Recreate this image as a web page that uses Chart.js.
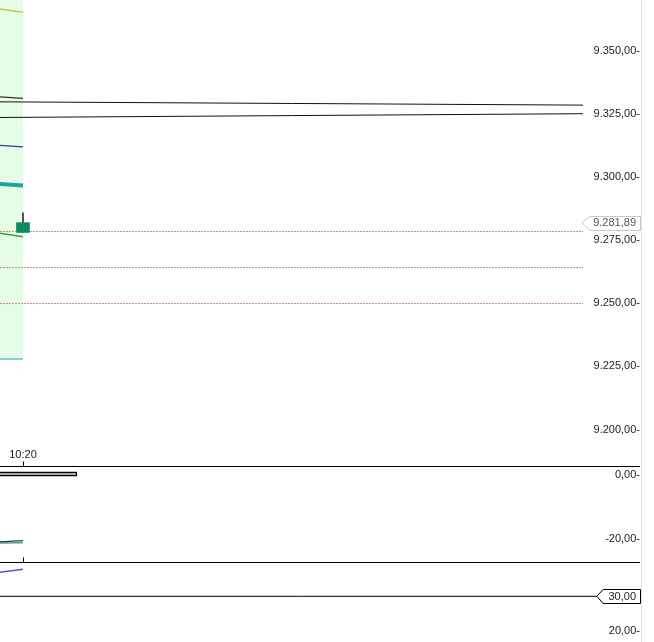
<!DOCTYPE html>
<html>
<head>
<meta charset="utf-8">
<script src="https://cdn.jsdelivr.net/npm/chart.js@4"></script>
<style>
  html, body { margin: 0; padding: 0; background: #fff; }
  body { width: 654px; height: 642px; position: relative; overflow: hidden; }
  .panel { position: absolute; left: 0; width: 654px; }
  #sep { position: absolute; left: 641px; top: 0; width: 1px; height: 642px; background: #e2e2e2; }
</style>
</head>
<body>
<div class="panel" style="top:0;height:467px"><canvas id="priceChart"></canvas></div>
<div class="panel" style="top:467px;height:96px"><canvas id="oscChart"></canvas></div>
<div class="panel" style="top:563px;height:79px"><canvas id="rsiChart"></canvas></div>
<div id="sep"></div>
<script>
// bar positions (10:20 is bar 0) and the visible x window
const barX = [-1, 0];
const xMin = -1;
const xMax = 24.35;
const timeTicks = [0];
const timeTickLabels = ['10:20'];

// price panel
const bandUpper = [9380, 9380];
const bandLower = [9227.9, 9227.9];
const yellowLine = [9366.4, 9365.1];
const darkLine = [9331.7, 9331.1];
const blueLine = [9312.5, 9311.9];
const tealLine = [9297.2, 9296.6];
const greenLine = [9277.7, 9276.3];
const trendX = [-1, 24.35];
const trendA = [9329.7, 9328.4];
const trendB = [9323.5, 9325.0];
const levelLines = [9278.37, 9264.12, 9249.88];
const candle = { x: 0, open: 9278.0, high: 9285.8, low: 9278.0, close: 9281.89 };
const priceRange = [9193.1, 9370];

// middle oscillator panel
const oscBarX = [-1, 2.35];
const oscBarInnerX = [-1, 2.3];
const oscBar = [0.31, 0.31];
const oscBlue = [-20.8, -20.4];
const oscGreen = [-21.15, -21.05];
const oscRange = [-27.37, 2.49];

// bottom panel
const rsiLine = [36.9, 37.7];
const rsiLevelX = [-1, 24.96];
const rsiLevel = 30;
const rsiRange = [16.94, 39.51];

const tickFont = { family: 'Liberation Sans, Arial, sans-serif', size: 11 };

function de(v) {
  const parts = Math.abs(v).toFixed(2).split('.');
  return (v < 0 ? '-' : '') + parts[0].replace(/\B(?=(\d{3})+(?!\d))/g, '.') + ',' + parts[1];
}

function pts(xs, ys) {
  return xs.map((x, i) => ({ x: x, y: ys[i] }));
}

function line(data, color, width, extra) {
  return Object.assign({
    type: 'line', data: data, borderColor: color, borderWidth: width,
    pointRadius: 0, tension: 0, fill: false, order: 2
  }, extra || {});
}

function xScale(show) {
  return {
    type: 'linear', min: xMin, max: xMax, offset: false, display: show,
    grid: { display: false, drawTicks: false, offset: false }, border: { display: false },
    afterBuildTicks: s => { s.ticks = timeTicks.map(v => ({ value: v })); },
    afterFit: s => {
      if (show) s.height = 20;
      s.paddingLeft = 0; s.paddingRight = 0;
    },
    ticks: {
      autoSkip: false, maxRotation: 0, padding: 1, font: tickFont, color: '#222',
      callback: v => timeTickLabels[timeTicks.indexOf(v)] || ''
    }
  };
}

function yScale(range, step, pad) {
  return {
    position: 'right', min: range[0], max: range[1],
    grid: { display: false }, border: { display: false },
    afterFit: s => { s.width = 57; s.paddingTop = 0; s.paddingBottom = 0; },
    ticks: {
      stepSize: step, includeBounds: false, padding: pad, crossAlign: 'far',
      font: tickFont, color: '#222', callback: v => de(v) + '-'
    }
  };
}

// bottom separator line and the small time tick marks
const panelFrame = {
  id: 'panelFrame',
  afterDraw(chart) {
    const ctx = chart.ctx;
    const yb = chart.height - 0.5;
    ctx.save();
    ctx.strokeStyle = '#000';
    ctx.lineWidth = 1;
    ctx.beginPath();
    ctx.moveTo(0, yb);
    ctx.lineTo(640, yb);
    timeTicks.forEach(t => {
      const px = Math.round(chart.scales.x.getPixelForValue(t)) + 0.5;
      ctx.moveTo(px, yb);
      ctx.lineTo(px, yb - 5);
    });
    ctx.stroke();
    ctx.restore();
  }
};

function valueTag(value, tipX, boxX, stroke, textColor) {
  return {
    id: 'valueTag',
    afterDraw(chart) {
      const ctx = chart.ctx;
      const yc = chart.scales.y.getPixelForValue(value);
      const tip = typeof tipX === 'function' ? tipX(chart) : tipX;
      const top = Math.round(yc - 7) + 0.5, bot = Math.round(yc + 7) + 0.5;
      ctx.save();
      ctx.beginPath();
      ctx.moveTo(tip, yc);
      ctx.lineTo(boxX, top);
      ctx.lineTo(640.5, top);
      ctx.lineTo(640.5, bot);
      ctx.lineTo(boxX, bot);
      ctx.closePath();
      ctx.fillStyle = '#fff';
      ctx.fill();
      ctx.strokeStyle = stroke;
      ctx.lineWidth = 1;
      ctx.stroke();
      ctx.fillStyle = textColor;
      ctx.font = '11px ' + tickFont.family;
      ctx.textAlign = 'right';
      ctx.textBaseline = 'middle';
      ctx.fillText(de(value), 636, yc + 0.5);
      ctx.restore();
    }
  };
}

const common = {
  responsive: true, maintainAspectRatio: false, animation: false,
  layout: { padding: { left: 0, right: 14, top: 0, bottom: 0 } },
  plugins: { legend: { display: false }, tooltip: { enabled: false } }
};

// price chart
const priceDatasets = [
  {
    type: 'bar', data: [{ x: candle.x, y: [candle.open, candle.close] }],
    backgroundColor: '#0f8a5f', barThickness: 13, grouped: false, order: 0
  },
  {
    type: 'bar', data: [{ x: candle.x, y: [candle.low, candle.high] }],
    backgroundColor: '#333', barThickness: 1, grouped: false, order: 1
  },
  line(pts(trendX, trendA), '#111', 1),
  line(pts(trendX, trendB), '#111', 1),
  line(pts(barX, yellowLine), '#c9c23a', 1.5),
  line(pts(barX, darkLine), '#333', 1.2),
  line(pts(barX, blueLine), '#2b3f9e', 1.2),
  line(pts(barX, tealLine), '#1aa3a3', 4),
  line(pts(barX, greenLine), '#3aa047', 1.5)
];
levelLines.forEach(v => {
  priceDatasets.push(line(pts(trendX, [v, v]), '#c8907e', 1, { borderDash: [2, 1], order: 3 }));
});
priceDatasets.push(line(pts(barX, bandUpper), 'rgba(0,0,0,0)', 0, { fill: '+1', backgroundColor: '#e4fde4', order: 9 }));
priceDatasets.push(line(pts(barX, bandLower), '#3fb5c5', 1.2, { order: 8 }));

new Chart(document.getElementById('priceChart'), {
  type: 'line',
  data: { datasets: priceDatasets },
  options: Object.assign({}, common, {
    scales: { x: xScale(true), y: yScale(priceRange, 25, 10) }
  }),
  plugins: [panelFrame, valueTag(candle.close, c => c.chartArea.right - 1, 590, '#c8c8c8', '#555')]
});

// oscillator chart
new Chart(document.getElementById('oscChart'), {
  type: 'line',
  data: {
    datasets: [
      line(pts(oscBarInnerX, oscBar), '#a9a9a9', 2, { borderCapStyle: 'butt', order: 0 }),
      line(pts(oscBarX, oscBar), '#000', 4.5, { borderCapStyle: 'butt', order: 1 }),
      line(pts(barX, oscBlue), '#1f2f7f', 1.2),
      line(pts(barX, oscGreen), '#58a878', 1.5, { order: 3 })
    ]
  },
  options: Object.assign({}, common, {
    scales: { x: xScale(false), y: yScale(oscRange, 20, 22) }
  }),
  plugins: [panelFrame]
});

// bottom chart
new Chart(document.getElementById('rsiChart'), {
  type: 'line',
  data: {
    datasets: [
      line(pts(barX, rsiLine), '#5555c0', 1.5),
      line(pts(rsiLevelX, [rsiLevel, rsiLevel]), '#000', 1, { clip: false })
    ]
  },
  options: Object.assign({}, common, {
    scales: { x: xScale(false), y: yScale(rsiRange, 10, 25) }
  }),
  plugins: [valueTag(rsiLevel, c => c.scales.x.getPixelForValue(rsiLevelX[1]), 603, '#000', '#222')]
});
</script>
</body>
</html>
